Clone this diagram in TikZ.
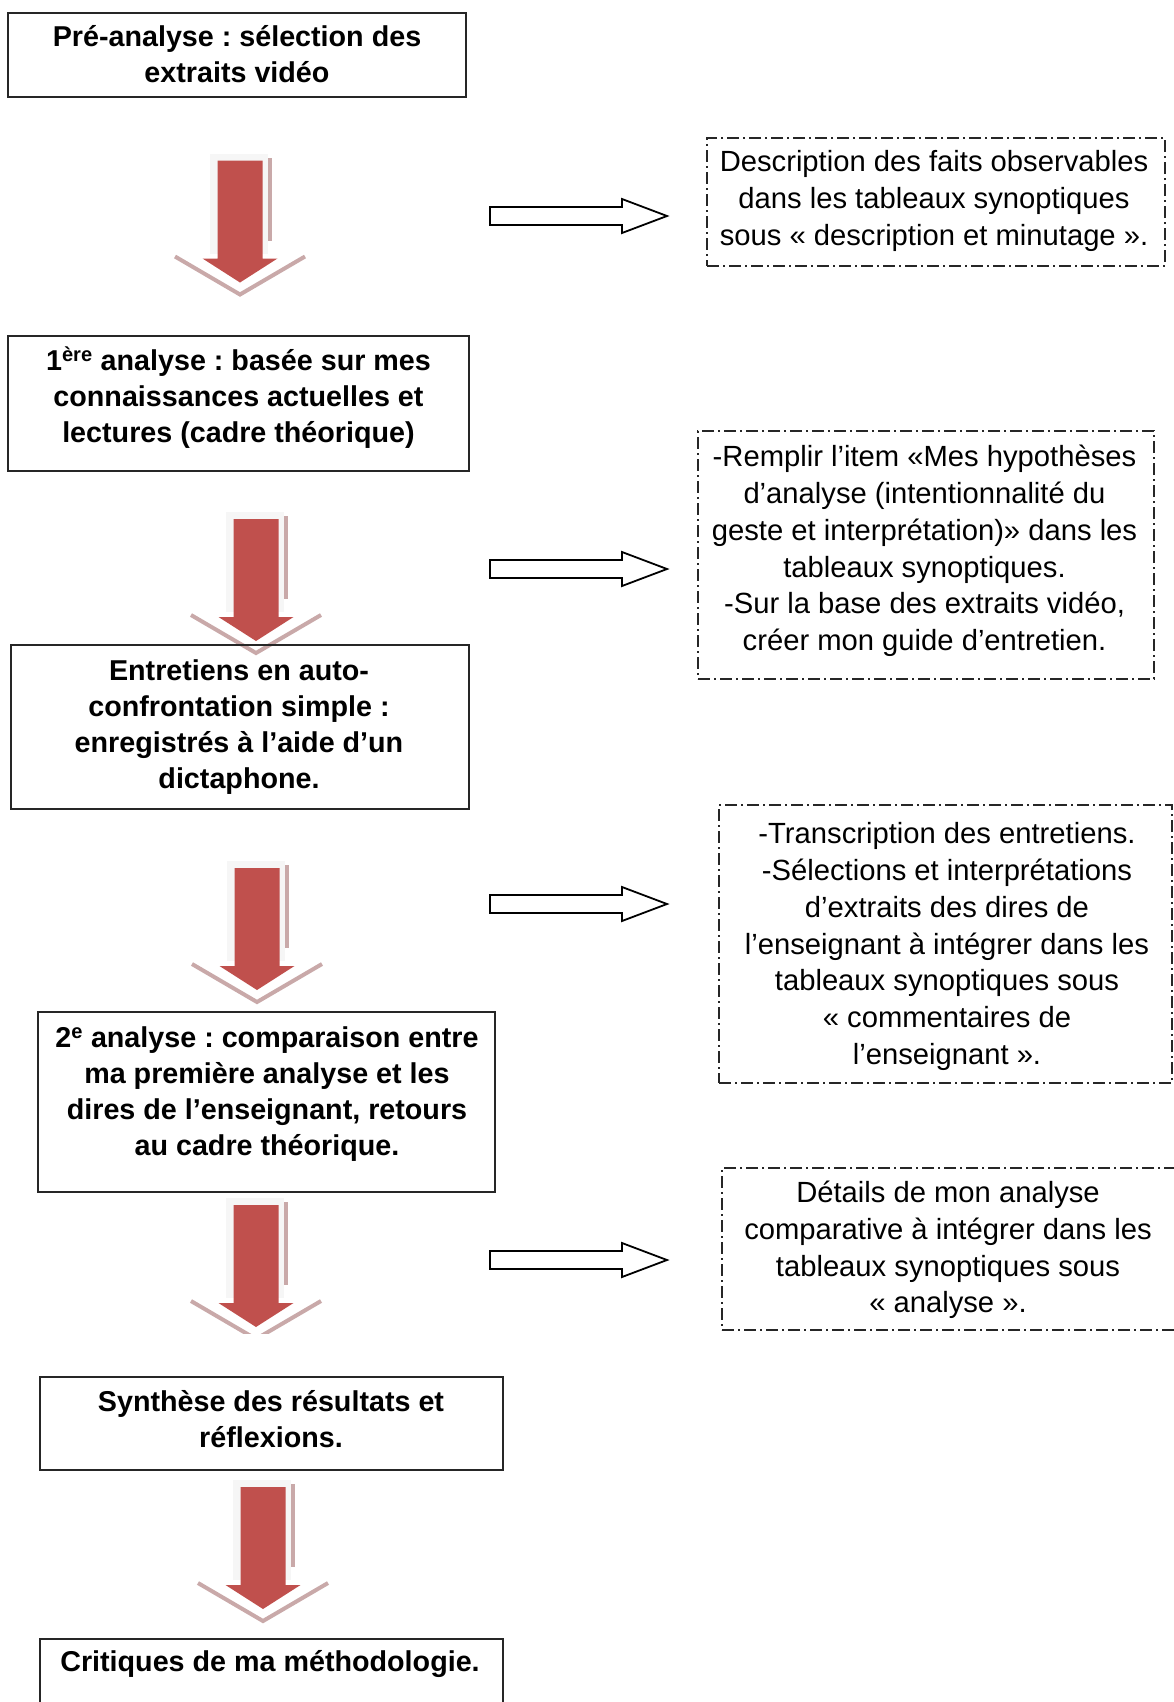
\documentclass[tikz,border=0pt]{standalone}
\usepackage{fontspec}
\setmainfont{Liberation Sans}
\frenchspacing
\definecolor{arrowred}{HTML}{C0504D}
\definecolor{shadowpink}{HTML}{C9A9A9}
\begin{document}
\begin{tikzpicture}[x=1pt,y=-1pt,
  box/.style={draw=black!85, line width=2pt, rectangle, inner sep=0pt},
  dbox/.style={draw=black!85, line width=1.6pt, rectangle, inner sep=0pt,
    dash pattern=on 12pt off 4pt on 2pt off 4pt},
  btext/.style={font=\fontsize{28.7}{36}\selectfont\bfseries, align=center, inner sep=0pt},
  rtext/.style={font=\fontsize{29.2}{36.8}\selectfont, align=center, inner sep=0pt},
  redarrow/.pic={
    \fill[gray!7] (-30,-7) rectangle (28,93);
    \fill[shadowpink] (28,-3) rectangle (31.5,80);
    \draw[shadowpink, line width=4pt, line join=miter] (-65,96) -- (0,134) -- (65,96);
    \fill[arrowred] (-22.5,0) -- (22.5,0) -- (22.5,98) -- (37.5,98) -- (0,122)
      -- (-37.5,98) -- (-22.5,98) -- cycle;
  },
  hollowarrow/.pic={
    \draw[line width=1.8pt, fill=white, line join=miter]
      (0,-9) -- (132,-9) -- (132,-17) -- (177,0) -- (132,17) -- (132,9) -- (0,9) -- cycle;
  }
]
\useasboundingbox (0,0) rectangle (1174,1702);
\clip (0,0) rectangle (1174,1702);

% red down arrows
\pic at (240,160.5) {redarrow};
\pic at (256,519) {redarrow};
\pic at (257,868) {redarrow};
\begin{scope}
  \clip (0,1100) rectangle (600,1333);
  \pic at (256,1205) {redarrow};
\end{scope}
\pic at (263,1487) {redarrow};

% hollow right arrows
\pic at (490,216) {hollowarrow};
\pic at (490,569) {hollowarrow};
\pic at (490,904) {hollowarrow};
\pic at (490,1260) {hollowarrow};

% main boxes
\node[box, minimum width=458pt, minimum height=84pt] (b1) at (237,55) {};
\node[box, minimum width=461pt, minimum height=135pt] (b2) at (238.5,403.5) {};
\node[box, minimum width=458pt, minimum height=164pt] (b3) at (240,727) {};
\node[box, minimum width=457pt, minimum height=180pt] (b4) at (266.5,1102) {};
\node[box, minimum width=463pt, minimum height=93pt] (b5) at (271.5,1423.5) {};
\node[box, minimum width=463pt, minimum height=121pt] (b6) at (271.5,1699.5) {};

\node[btext] (t1) at (237,53.7) {Pré-analyse : sélection des\\extraits vidéo};
\node[btext] (t2) at (238.5,397.5) {1\textsuperscript{ère} analyse : basée sur mes\\connaissances actuelles et\\lectures (cadre théorique)};
\node[btext] (t3) at (239,727) {Entretiens en auto-\\confrontation simple :\\enregistrés à l’aide d’un\\dictaphone.};
\node[btext] (t4) at (267,1094) {2\textsuperscript{e} analyse : comparaison entre\\ma première analyse et les\\dires de l’enseignant, retours\\au cadre théorique.};
\node[btext] (t5) at (271,1419) {Synthèse des résultats et\\réflexions.};
\node[btext] (t6) at (270,1664) {Critiques de ma méthodologie.};

% dashed boxes
\node[dbox, minimum width=458pt, minimum height=128pt] (d1) at (936,202) {};
\node[dbox, minimum width=456pt, minimum height=248pt] (d2) at (926,555) {};
\node[dbox, minimum width=453pt, minimum height=278pt] (d3) at (945.5,944) {};
\node[dbox, minimum width=454pt, minimum height=162pt] (d4) at (949,1249) {};

\node[rtext] (s1) at (934,201) {Description des faits observables\\dans les tableaux synoptiques\\sous « description et minutage ».};
\node[rtext] (s2) at (924.5,551) {-Remplir l’item «Mes hypothèses\\d’analyse (intentionnalité du\\geste et interprétation)» dans les\\tableaux synoptiques.\\-Sur la base des extraits vidéo,\\créer mon guide d’entretien.};
\node[rtext] (s3) at (947,946.5) {-Transcription des entretiens.\\-Sélections et interprétations\\d’extraits des dires de\\l’enseignant à intégrer dans les\\tableaux synoptiques sous\\« commentaires de\\l’enseignant ».};
\node[rtext] (s4) at (948,1250) {Détails de mon analyse\\comparative à intégrer dans les\\tableaux synoptiques sous\\« analyse ».};
\end{tikzpicture}
\end{document}
